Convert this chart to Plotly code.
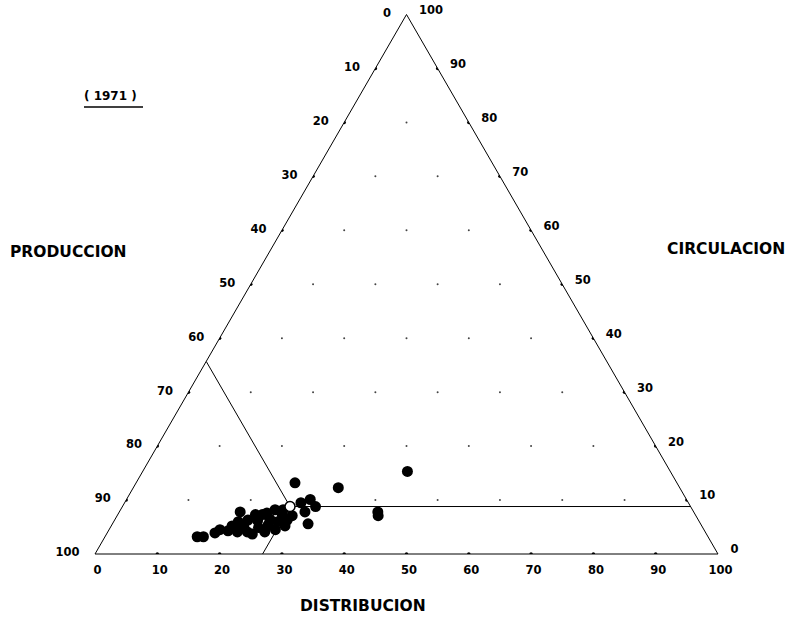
import plotly.graph_objects as go

# ---- data (percent) ----
tick_values = [0, 10, 20, 30, 40, 50, 60, 70, 80, 90, 100]
tick_labels = [str(100 - v) for v in tick_values]

produccion = [82.0, 81.0, 61.3, 54.8, 42.2, 50.7, 51.0, 63.0, 62.2, 60.4,
              60.2, 62.4, 77.7, 76.5, 75.1, 74.0, 72.8, 73.5, 72.3, 70.6,
              71.3, 69.5, 68.6, 69.5, 67.0, 67.7, 66.3, 66.0, 78.8, 75.4,
              72.9, 70.7, 68.8, 66.9, 64.8, 70.8, 73.6, 68.7, 65.7]
distribucion = [14.8, 15.8, 25.5, 32.9, 42.5, 41.5, 41.9, 31.4, 28.3, 29.5,
                31.0, 29.8, 17.8, 19.2, 20.8, 20.0, 19.4, 22.4, 21.4, 22.1,
                23.8, 23.2, 23.8, 25.1, 24.8, 26.3, 26.4, 27.7, 17.3, 19.4,
                23.4, 25.2, 26.7, 27.9, 28.1, 23.0, 21.4, 24.8, 26.1]
circulacion = [3.2, 3.2, 13.2, 12.3, 15.3, 7.8, 7.1, 5.6, 9.5, 10.1,
               8.8, 7.8, 4.5, 4.3, 4.1, 6.0, 7.8, 4.1, 6.3, 7.3,
               4.9, 7.3, 7.6, 5.4, 8.2, 6.0, 7.3, 6.3, 3.9, 5.2,
               3.7, 4.1, 4.5, 5.2, 7.1, 6.2, 5.0, 6.5, 8.2]

mean_produccion = 64.3
mean_distribucion = 26.9
mean_circulacion = 8.8

FONT = "DejaVu Sans"

fig = go.Figure()

# grid intersection dots
ga, gb, gc = [], [], []
for a in tick_values[1:-1]:
    for b in tick_values[1:-1]:
        c = 100 - a - b
        if c >= 10:
            ga.append(a); gb.append(b); gc.append(c)
fig.add_trace(go.Scatterternary(a=ga, b=gb, c=gc, mode="markers",
                                marker=dict(size=2, color="#444444"),
                                hoverinfo="skip", showlegend=False))

# small tick marks on the three sides
ta, tb, tc = [], [], []
for v in tick_values[1:-1]:
    ta += [v, v, 0]
    tb += [100 - v, 0, v]
    tc += [0, 100 - v, 100 - v]
fig.add_trace(go.Scatterternary(a=ta, b=tb, c=tc, mode="markers",
                                marker=dict(size=3.5, color="black"),
                                hoverinfo="skip", showlegend=False))

# reference lines from the mean point to each side
seg_a = [[mean_circulacion, mean_circulacion + mean_distribucion],
         [mean_circulacion, mean_circulacion],
         [mean_circulacion, 0]]
seg_b = [[mean_produccion, mean_produccion],
         [mean_produccion, 0],
         [mean_produccion, mean_produccion + mean_circulacion]]
seg_c = [[mean_distribucion, 0],
         [mean_distribucion, mean_distribucion + mean_produccion],
         [mean_distribucion, mean_distribucion]]
for sa, sb, sc in zip(seg_a, seg_b, seg_c):
    fig.add_trace(go.Scatterternary(a=sa, b=sb, c=sc, mode="lines",
                                    line=dict(color="black", width=1),
                                    hoverinfo="skip", showlegend=False))

# observations
fig.add_trace(go.Scatterternary(a=circulacion, b=produccion, c=distribucion,
                                mode="markers",
                                marker=dict(size=11, color="black",
                                            line=dict(width=0)),
                                showlegend=False))

# mean
fig.add_trace(go.Scatterternary(a=[mean_circulacion], b=[mean_produccion],
                                c=[mean_distribucion], mode="markers",
                                marker=dict(size=10, color="white",
                                            line=dict(color="black", width=1.5)),
                                showlegend=False))


def axis(ticklen, texts):
    return dict(
        tickmode="array", tickvals=tick_values, ticktext=texts,
        ticks="outside", ticklen=ticklen, tickwidth=1,
        tickcolor="rgba(0,0,0,0)",
        showgrid=False, linecolor="black", linewidth=1,
        tickfont=dict(family=FONT, size=11.5, color="black", weight="bold"),
        title=dict(text=""),
    )


right_labels = ["\u00a0<br>\u00a0" + t for t in tick_labels]

fig.update_layout(
    width=792, height=619,
    margin=dict(l=0, r=0, t=0, b=0),
    paper_bgcolor="white",
    ternary=dict(
        sum=100,
        bgcolor="white",
        domain=dict(x=[95 / 792, 718 / 792], y=[65 / 619, 604.5 / 619]),
        aaxis=axis(13, tick_labels),
        baxis=axis(5, tick_labels),
        caxis=axis(12, right_labels),
    ),
)

title_font = dict(family=FONT, size=15.5, color="black", weight="bold")
fig.add_annotation(text="PRODUCCION", x=68 / 792, y=1 - 252 / 619,
                   xref="paper", yref="paper", showarrow=False,
                   xanchor="center", yanchor="middle", font=title_font)
fig.add_annotation(text="CIRCULACION", x=726 / 792, y=1 - 249 / 619,
                   xref="paper", yref="paper", showarrow=False,
                   xanchor="center", yanchor="middle", font=title_font)
fig.add_annotation(text="DISTRIBUCION", x=363 / 792, y=1 - 606 / 619,
                   xref="paper", yref="paper", showarrow=False,
                   xanchor="center", yanchor="middle", font=title_font)
fig.add_annotation(text="( 1971 )", x=111 / 792, y=1 - 96 / 619,
                   xref="paper", yref="paper", showarrow=False,
                   xanchor="center", yanchor="middle",
                   font=dict(family=FONT, size=12, color="black", weight="bold"))
fig.add_shape(type="line", xref="paper", yref="paper",
              x0=84 / 792, x1=143 / 792, y0=1 - 107 / 619, y1=1 - 107 / 619,
              line=dict(color="black", width=1.5))

fig.write_html("out.html",
               config={"displayModeBar": False},
               post_script="document.body.style.margin='0';"
                           "document.body.style.overflow='hidden';")
